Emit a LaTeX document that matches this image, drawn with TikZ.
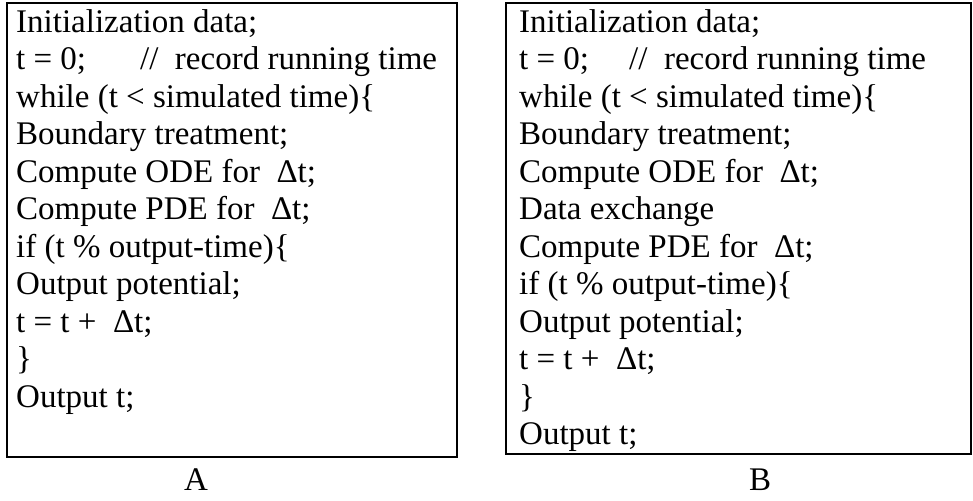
\documentclass[tikz,border=0pt]{standalone}
\usepackage{fontspec}
\setmainfont{Liberation Serif}
\tikzset{
  codebox/.style={draw=black, line width=2pt},
  codetext/.style={anchor=north west, inner sep=0pt, align=left,
    font=\fontsize{33}{37.5}\selectfont},
  caption/.style={font=\fontsize{33}{37.5}\selectfont, inner sep=0pt}
}
\begin{document}
\begin{tikzpicture}[x=1pt,y=-1pt]
  \useasboundingbox (0,0) rectangle (973,500);
  % frames of the two listings
  \draw[codebox] (7,3) rectangle (457,457);
  \draw[codebox] (506,3) rectangle (971,454);
  % listing A
  \node[codetext] (codeA) at (16,9) {%
    Initialization data;\\
    t = 0;\hspace{54pt}// \ record running time\\
    while (t < simulated time)\{\\
    Boundary treatment;\\
    Compute ODE for \ Δt;\\
    Compute PDE for \ Δt;\\
    if (t \% output-time)\{\\
    Output potential;\\
    t = t + \ Δt;\\
    \}\\
    Output t;};
  % listing B
  \node[codetext] (codeB) at (519,9) {%
    Initialization data;\\
    t = 0;\hspace{40pt}// \ record running time\\
    while (t < simulated time)\{\\
    Boundary treatment;\\
    Compute ODE for \ Δt;\\
    Data exchange\\
    Compute PDE for \ Δt;\\
    if (t \% output-time)\{\\
    Output potential;\\
    t = t + \ Δt;\\
    \}\\
    Output t;};
  % captions
  \node[caption] (labA) at (196,480) {A};
  \node[caption] (labB) at (760,480) {B};
\end{tikzpicture}
\end{document}
